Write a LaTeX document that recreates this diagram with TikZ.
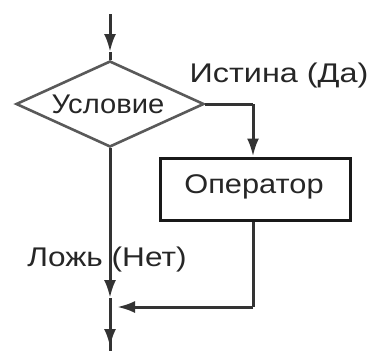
\documentclass[tikz,border=0pt]{standalone}
\usepackage{fontspec}
\setmainfont{Liberation Sans}
\usetikzlibrary{shapes.geometric,arrows.meta}
\begin{document}
\begin{tikzpicture}[x=1pt,y=-1pt,
  line/.style={draw=black!80,line width=3pt},
  arr/.style={line, -{Latex[length=18pt,width=12pt]}},
  txt/.style={inner sep=0pt,text=black!85,font=\fontsize{27}{30}\selectfont},
  cond/.style={diamond,draw=black!65,line width=2.6pt,minimum width=188pt,minimum height=86pt,inner sep=0pt},
  opbox/.style={rectangle,draw=black!90,line width=3pt,minimum width=190pt,minimum height=62pt,inner sep=0pt}]
\useasboundingbox (0,0) rectangle (369,351);
% nodes
\node[cond] (d) at (110,104) {};
\node[txt] (dtxt) at (108,104) {\scalebox{1.08}[1]{Условие}};
\node[opbox] (op) at (255,189) {};
\node[txt] (optxt) at (254,187) {\scalebox{1.14}[1]{Оператор}};
\node[txt] (yes) at (279,76) {\scalebox{1.2}[1]{Истина (Да)}};
\node[txt] (no) at (107,260) {\scalebox{1.17}[1]{Ложь (Нет)}};
% coordinates
\coordinate (top) at (110,14);
\coordinate (topa) at (110,52);
\coordinate (rc) at (253,104);
\coordinate (ma) at (110,298);
\coordinate (j) at (110,307);
\coordinate (jr) at (253,307);
\coordinate (ja) at (117,307);
\coordinate (ba) at (110,347);
\coordinate (bot) at (110,351);
% connectors
\draw[arr] (top) -- (topa);
\draw[line] (topa) -- (d.north);
\draw[line] (d.east) -- (rc);
\draw[arr] (rc) -- (op.north -| rc);
\draw[arr] (d.south) -- (ma);
\draw[line] (ma) -- (bot);
\draw[line] (op.south -| jr) -- (jr);
\draw[arr] (jr) -- (ja);
\draw[arr] (j) -- (ba);
\end{tikzpicture}
\end{document}
